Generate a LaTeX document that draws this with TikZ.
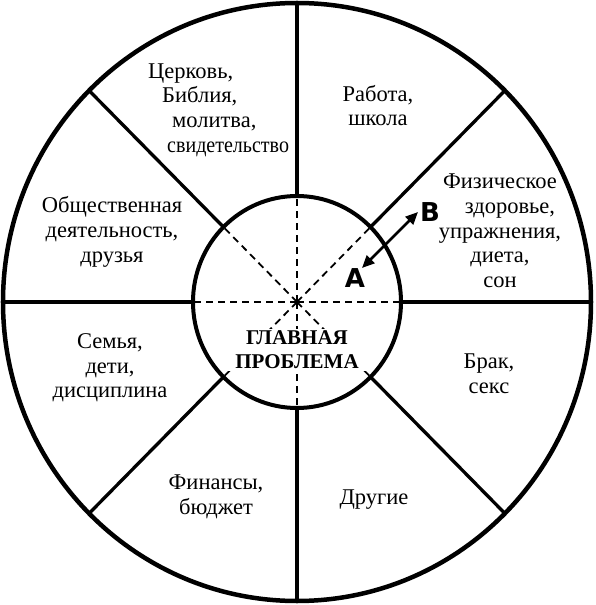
\documentclass[tikz,border=0pt]{standalone}
\usepackage{fontspec}
\setmainfont{Liberation Serif}
\newfontfamily\markfont{DejaVu Sans}
\usepackage{tikz}
\usetikzlibrary{arrows.meta, positioning, calc}
\tikzset{
	rim/.style={line width=4.5pt},
	hub/.style={line width=4pt},
	spoke/.style={line width=3.3pt},
	ray/.style={line width=1.8pt, dash pattern=on 7pt off 5pt},
	sector/.style={align=center, inner sep=0pt, font=\fontsize{22.5}{24.7}\selectfont},
	core/.style={align=center, inner xsep=10pt, inner ysep=2pt, fill=white, font=\bfseries\fontsize{21}{24}\selectfont},
	letter/.style={inner sep=0pt, font=\markfont\bfseries\fontsize{26}{26}\selectfont},
	arrow/.style={line width=2.8pt, {Triangle[length=4.4mm, width=3.8mm]}-{Triangle[length=4.4mm, width=3.8mm]}}
}
\begin{document}
\begin{tikzpicture}[x=1pt, y=1pt]
		\useasboundingbox (-297,-303) rectangle (298,302);
		\coordinate (O) at (0,0);
		
		% Лучи внутри круга
		\foreach \ang in {0,45,...,315}
			\draw [ray] (O) -- (\ang:104pt and 106pt);
		
		% Круги и спицы
		\draw [rim] (O) ellipse [x radius=294, y radius=299];
		\draw [hub] (O) ellipse [x radius=104, y radius=106];
		\foreach \ang in {0,45,...,315}
			\draw [spoke] (\ang:104pt and 106pt) -- (\ang:294pt and 299pt);
		
		% Центр
		\node [core] (core) at (0,-48) {ГЛАВНАЯ\\ПРОБЛЕМА};
		
		% Секторы
		\node [sector, align=left, anchor=west] (church) at (-149,192) {Церковь,\\\hspace*{14pt}Библия,\\\hspace*{24pt}молитва,\\\hspace*{19pt}{\addfontfeatures{FakeStretch=0.89}свидетельство}};
		\node [sector] (work) at (81,196.5) {Работа,\\школа};
		\node [sector] (health) at (203,71) {Физическое\\\hspace*{20pt}здоровье,\\упражнения,\\диета,\\сон};
		\node [sector] (social) at (-185,70) {Общественная\\деятельность,\\друзья};
		\node [sector] (family) at (-187,-66) {Семья,\\дети,\\дисциплина};
		\node [sector] (marriage) at (192,-71.5) {Брак,\\секс};
		\node [sector] (money) at (-81,-194.5) {Финансы,\\бюджет};
		\node [sector] (other) at (77,-198) {Другие};
		
		% Стрелка A--B
		\coordinate (tipA) at (65,34);
		\coordinate (tipB) at (121,90);
		\draw [arrow] (tipA) -- (tipB);
		\node [letter, below=0pt of tipA, xshift=-7pt] (labA) {A};
		\node [letter, right=2pt of tipB] (labB) {B};
	\end{tikzpicture}
\end{document}
